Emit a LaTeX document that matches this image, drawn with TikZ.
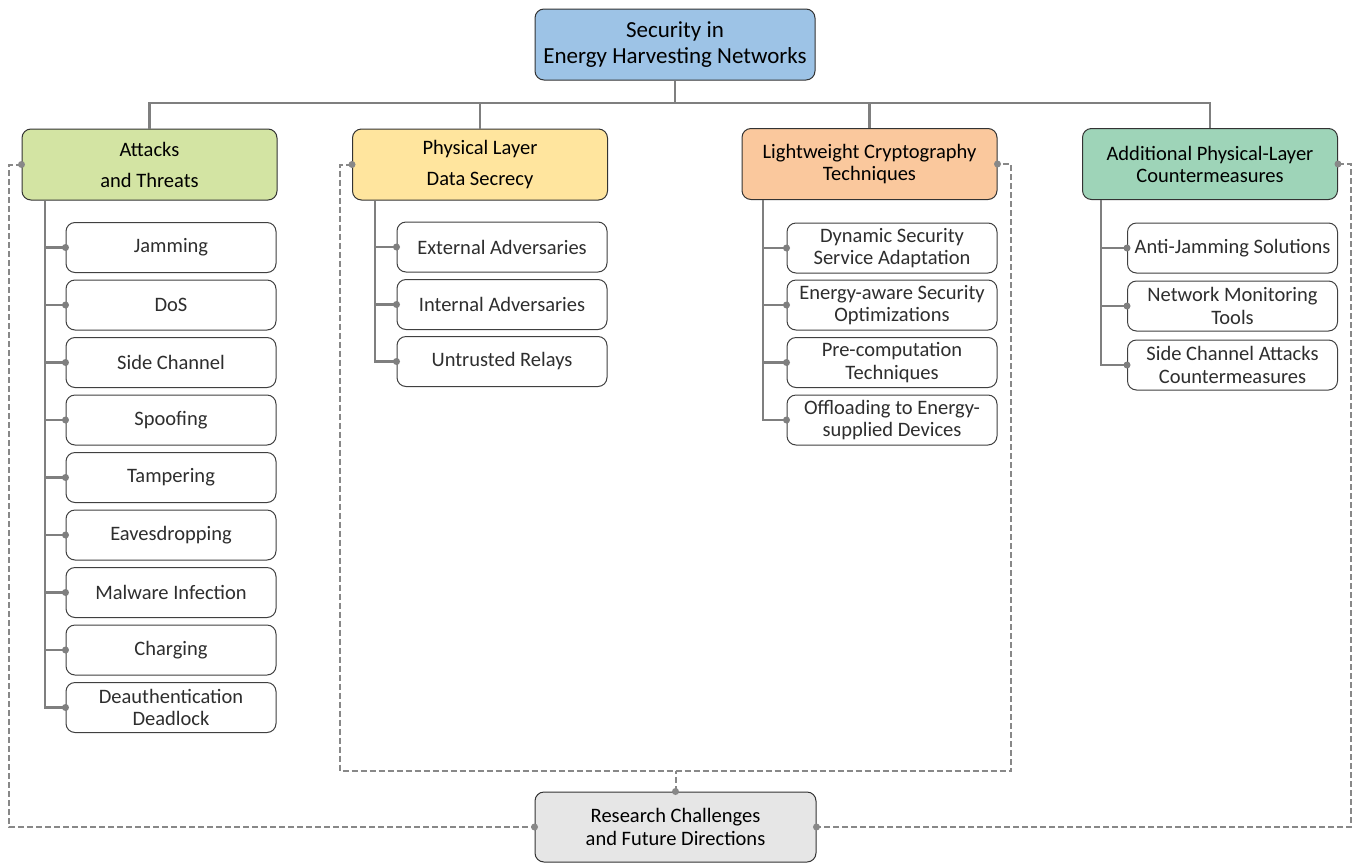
\documentclass[tikz,border=0pt]{standalone}
\usepackage{fontspec}
\setmainfont{Carlito}
\usetikzlibrary{arrows.meta}
\definecolor{rootc}{HTML}{9DC3E6}
\definecolor{attc}{HTML}{D3E4A3}
\definecolor{phyc}{HTML}{FFE59E}
\definecolor{lwc}{HTML}{FAC89D}
\definecolor{addc}{HTML}{9ED4B8}
\definecolor{resc}{HTML}{E6E6E6}
\definecolor{treegray}{HTML}{7F7F7F}
\definecolor{dashgray}{HTML}{888888}
\begin{document}
\begin{tikzpicture}[x=1pt,y=-1pt,
  box/.style={draw=black!80, line width=1pt, rounded corners=9pt, align=center, inner sep=0pt},
  cat/.style={box, minimum width=255pt, minimum height=71pt, font=\fontsize{20.5}{22}\selectfont},
  leaf/.style={box, draw=black!75, fill=white, minimum width=210pt, minimum height=50pt, text=black!82, font=\fontsize{20.5}{22.5}\selectfont},
  tree/.style={draw=treegray, line width=2.2pt},
  dashline/.style={draw=dashgray, line width=2pt, dash pattern=on 6pt off 3pt},
  tdot/.style={fill=treegray},
  ddot/.style={fill=dashgray},
]
\useasboundingbox (0,0) rectangle (1353,863);

% root and bottom
\node[box, fill=rootc, minimum width=280pt, minimum height=71pt, font=\fontsize{23}{26}\selectfont] (root) at (675,44.5) {Security in\\Energy Harvesting Networks};
\node[box, fill=resc, minimum width=281pt, minimum height=70pt, font=\fontsize{20.5}{23}\selectfont] (res) at (675.5,827) {Research Challenges\\and Future Directions};

% categories
\node[cat, fill=attc] (c1) at (149.5,164.5) {Attacks\\[9pt]and Threats};
\node[cat, fill=phyc] (c2) at (480,164.5) {Physical Layer\\[9pt]Data Secrecy};
\node[cat, fill=lwc] (c3) at (869.5,164) {Lightweight Cryptography\\Techniques};
\node[cat, fill=addc] (c4) at (1210,164) {Additional Physical-Layer\\Countermeasures};

% tree connectors
\coordinate (bus) at (0,103);
\draw[tree] (root.south) -- (root.south |- bus);
\draw[tree] (c1.north) |- (c4.north |- bus) -- (c4.north);
\draw[tree] (c2.north) -- (c2.north |- bus);
\draw[tree] (c3.north) -- (c3.north |- bus);

% attacks leaves
\foreach \t [count=\i] in {Jamming,DoS,Side Channel,Spoofing,Tampering,Eavesdropping,Malware Infection,Charging,{Deauthentication\\Deadlock}}
  \node[leaf] (a\i) at (171,190+57.5*\i) {\t};
\coordinate (s1) at (45,0);
\draw[tree] (s1 |- c1.south) |- (a9.west);
\foreach \i in {1,...,8}
  \draw[tree] (s1 |- a\i.west) -- (a\i.west);
\foreach \i in {1,...,9}
  \fill[tdot] (a\i.west) circle (3.5pt);

% physical leaves
\node[leaf] (p1) at (502,247) {External Adversaries};
\node[leaf] (p2) at (502,304.5) {Internal Adversaries};
\node[leaf] (p3) at (502,361.5) {Untrusted Relays};
\coordinate (s2) at (375,0);
\draw[tree] (s2 |- c2.south) |- (p3.west);
\foreach \i in {1,2}
  \draw[tree] (s2 |- p\i.west) -- (p\i.west);
\foreach \i in {1,2,3}
  \fill[tdot] (p\i.west) circle (3.5pt);

% lightweight leaves
\node[leaf] (l1) at (892,248) {Dynamic Security\\Service Adaptation};
\node[leaf] (l2) at (892,305) {Energy-aware Security\\Optimizations};
\node[leaf] (l3) at (892,362.5) {Pre-computation\\Techniques};
\node[leaf] (l4) at (892,420) {Offloading to Energy-\\supplied Devices};
\coordinate (s3) at (763,0);
\draw[tree] (s3 |- c3.south) |- (l4.west);
\foreach \i in {1,2,3}
  \draw[tree] (s3 |- l\i.west) -- (l\i.west);
\foreach \i in {1,...,4}
  \fill[tdot] (l\i.west) circle (3.5pt);

% additional leaves
\node[leaf] (d1) at (1232.5,248) {Anti-Jamming Solutions};
\node[leaf] (d2) at (1232.5,306) {Network Monitoring\\Tools};
\node[leaf] (d3) at (1232.5,365) {Side Channel Attacks\\Countermeasures};
\coordinate (s4) at (1101,0);
\draw[tree] (s4 |- c4.south) |- (d3.west);
\foreach \i in {1,2}
  \draw[tree] (s4 |- d\i.west) -- (d\i.west);
\foreach \i in {1,2,3}
  \fill[tdot] (d\i.west) circle (3.5pt);

% dashed links
\coordinate (lft) at (9,0);
\coordinate (rgt) at (1351,0);
\coordinate (pb) at (340,771);
\coordinate (qb) at (1011,771);
\draw[dashline] (c1.west) -- (lft |- c1.west) |- (res.west);
\draw[dashline] (c2.west) -| (pb) -- (qb) |- (c3.east);
\draw[dashline] (res.north) -- (res.north |- pb);
\draw[dashline] (c4.east) -- (rgt |- c4.east) |- (res.east);
\foreach \n in {c1.west,c2.west,c3.east,c4.east,res.west,res.east,res.north}
  \fill[ddot] (\n) circle (3.5pt);
\end{tikzpicture}
\end{document}
